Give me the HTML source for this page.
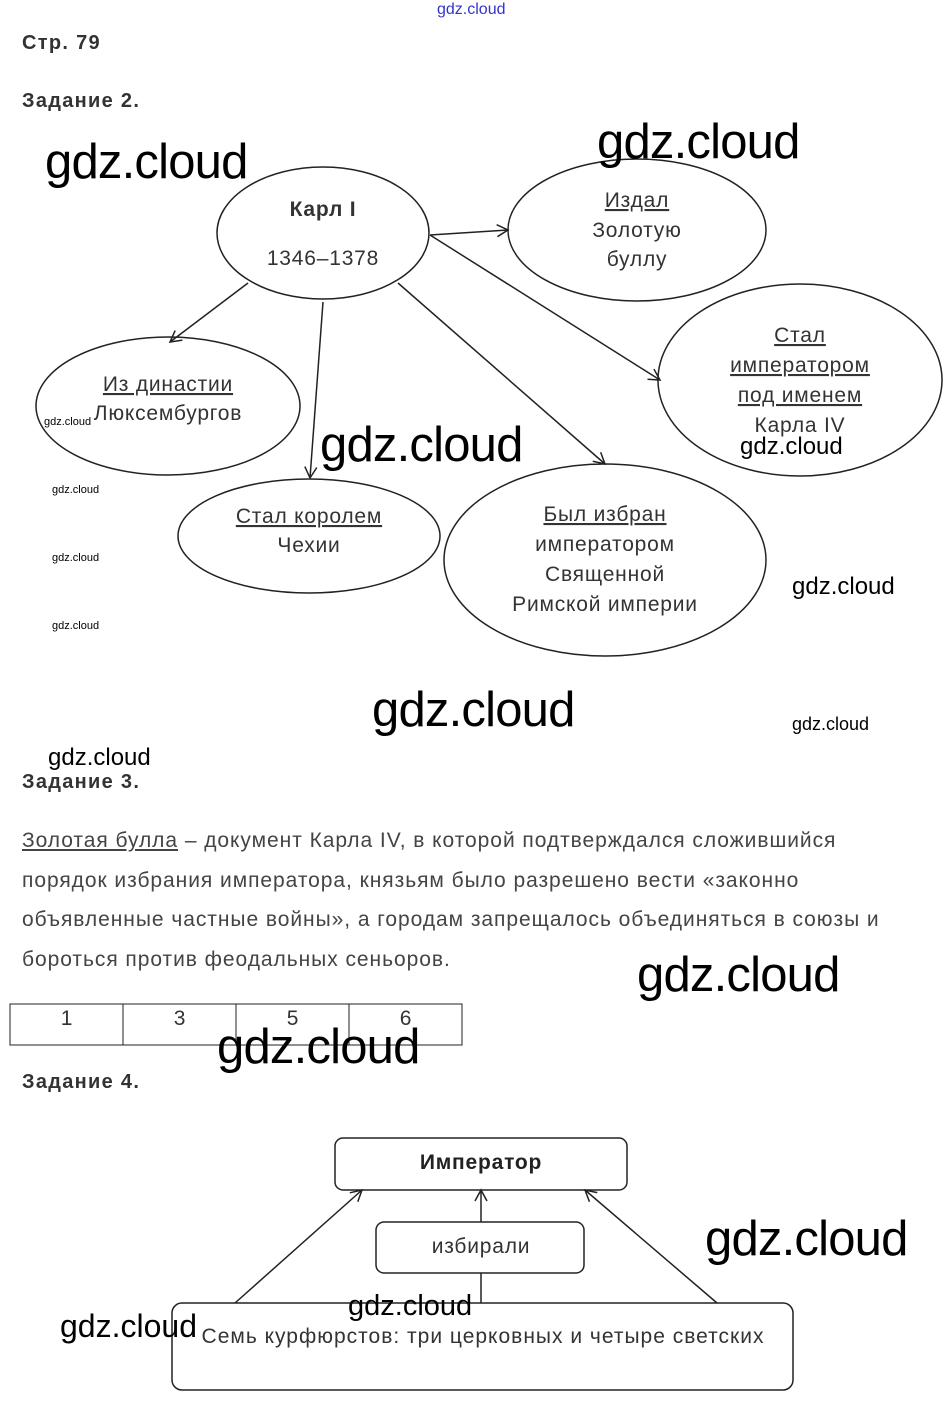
<!DOCTYPE html>
<html><head><meta charset="utf-8"><style>
body{margin:0;width:951px;height:1405px;background:#fff;position:relative;overflow:hidden;font-family:"Liberation Sans",sans-serif;color:#333}
.a{position:absolute;white-space:nowrap}
.h{font-weight:bold;font-size:20px;color:#333;letter-spacing:1.3px}
.w{font-size:49px;color:#000;letter-spacing:-0.8px}
.s{font-size:11px;color:#000}
.m{font-size:24px;color:#000}
.p{font-size:21px;color:#444;line-height:39.5px;letter-spacing:0.95px}
u{text-decoration:underline}
</style></head><body>
<div class="a" style="left:437px;top:1px;font-size:16px;color:#33c">gdz.cloud</div>
<div class="a h" style="left:22px;top:32px">Стр. 79</div>
<div class="a h" style="left:22px;top:90px">Задание 2.</div>
<svg class="a" style="left:0;top:0" width="951" height="1405">
<defs><marker id="ar" markerWidth="14" markerHeight="14" refX="12" refY="7" orient="auto" markerUnits="userSpaceOnUse"><path d="M1,1 L12,7 L1,13" fill="none" stroke="#222" stroke-width="1.5"/></marker></defs>
<g fill="none" stroke="#222" stroke-width="1.5">
<ellipse cx="323" cy="233" rx="106" ry="66"/>
<ellipse cx="637" cy="230" rx="129" ry="71"/>
<ellipse cx="800" cy="380" rx="142" ry="96"/>
<ellipse cx="168" cy="406" rx="132" ry="69"/>
<ellipse cx="309" cy="536" rx="131" ry="57"/>
<ellipse cx="605" cy="560" rx="161" ry="96"/>
<line x1="430" y1="235" x2="508" y2="230" marker-end="url(#ar)"/>
<line x1="430" y1="235" x2="660" y2="380" marker-end="url(#ar)"/>
<line x1="248" y1="283" x2="170" y2="342" marker-end="url(#ar)"/>
<line x1="323" y1="302" x2="310" y2="478" marker-end="url(#ar)"/>
<line x1="398" y1="283" x2="605" y2="464" marker-end="url(#ar)"/>
<rect x="10" y="1004" width="452" height="41" stroke-width="1"/>
<line x1="123" y1="1004" x2="123" y2="1045" stroke-width="1"/>
<line x1="236" y1="1004" x2="236" y2="1045" stroke-width="1"/>
<line x1="349" y1="1004" x2="349" y2="1045" stroke-width="1"/>
<rect x="335" y="1138" width="292" height="52" rx="8"/>
<rect x="376" y="1222" width="208" height="51" rx="8"/>
<rect x="172" y="1303" width="621" height="87" rx="10"/>
<line x1="235" y1="1303" x2="362" y2="1190" marker-end="url(#ar)"/>
<line x1="481" y1="1222" x2="481" y2="1190" marker-end="url(#ar)"/>
<line x1="717" y1="1303" x2="585" y2="1190" marker-end="url(#ar)"/>
<line x1="481" y1="1273" x2="481" y2="1303"/>
</g>
<g font-family="Liberation Sans,sans-serif" font-size="21" letter-spacing="0.8" fill="#333" text-anchor="middle">
<text x="323" y="216" font-weight="bold">Карл I</text>
<text x="323" y="265">1346–1378</text>
<text x="637" y="207" text-decoration="underline">Издал</text>
<text x="637" y="237">Золотую</text>
<text x="637" y="266">буллу</text>
<text x="800" y="342" text-decoration="underline">Стал</text>
<text x="800" y="372" text-decoration="underline">императором</text>
<text x="800" y="402" text-decoration="underline">под именем</text>
<text x="800" y="432">Карла IV</text>
<text x="168" y="391" text-decoration="underline">Из династии</text>
<text x="168" y="420">Люксембургов</text>
<text x="309" y="523" text-decoration="underline">Стал королем</text>
<text x="309" y="552">Чехии</text>
<text x="605" y="521" text-decoration="underline">Был избран</text>
<text x="605" y="551">императором</text>
<text x="605" y="581">Священной</text>
<text x="605" y="611">Римской империи</text>
<text x="67" y="1025">1</text><text x="180" y="1025">3</text><text x="293" y="1025">5</text><text x="406" y="1025">6</text>
<text x="481" y="1169" font-weight="bold" fill="#222">Император</text>
<text x="481" y="1253">избирали</text>
<text x="483" y="1343" letter-spacing="1">Семь курфюрстов: три церковных и четыре светских</text>
</g>
</svg>
<div class="a h" style="left:22px;top:771px">Задание 3.</div>
<div class="a p" style="left:22px;top:821px"><u>Золотая булла</u> – документ Карла IV, в которой подтверждался сложившийся<br>порядок избрания императора, князьям было разрешено вести «законно<br>объявленные частные войны», а городам запрещалось объединяться в союзы и<br>бороться против феодальных сеньоров.</div>
<div class="a h" style="left:22px;top:1071px">Задание 4.</div>
<div class="a w" style="left:45px;top:134px">gdz.cloud</div>
<div class="a w" style="left:597px;top:114px">gdz.cloud</div>
<div class="a w" style="left:320px;top:417px">gdz.cloud</div>
<div class="a w" style="left:372px;top:682px">gdz.cloud</div>
<div class="a w" style="left:637px;top:947px">gdz.cloud</div>
<div class="a w" style="left:217px;top:1019px">gdz.cloud</div>
<div class="a w" style="left:705px;top:1211px">gdz.cloud</div>
<div class="a m" style="left:740px;top:433px">gdz.cloud</div>
<div class="a m" style="left:792px;top:573px">gdz.cloud</div>
<div class="a m" style="left:48px;top:744px">gdz.cloud</div>
<div class="a m" style="left:348px;top:1290px;font-size:29px">gdz.cloud</div>
<div class="a m" style="left:60px;top:1308px;font-size:32px">gdz.cloud</div>
<div class="a" style="left:792px;top:714px;font-size:18px;color:#000">gdz.cloud</div>
<div class="a s" style="left:44px;top:416px">gdz.cloud</div>
<div class="a s" style="left:52px;top:484px">gdz.cloud</div>
<div class="a s" style="left:52px;top:552px">gdz.cloud</div>
<div class="a s" style="left:52px;top:620px">gdz.cloud</div>
</body></html>
